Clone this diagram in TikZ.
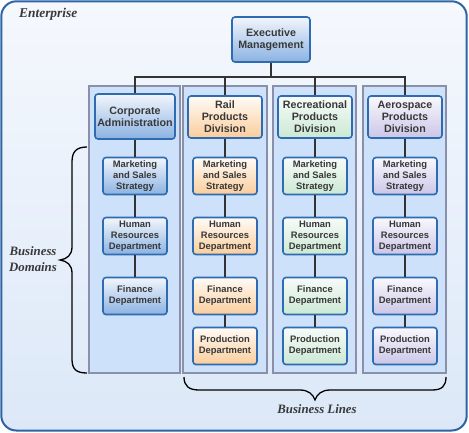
\documentclass[tikz,border=0pt]{standalone}
\usepackage{fontspec}
\newfontfamily\boxfont{Liberation Sans}
\newfontfamily\labfont{Liberation Serif}
\definecolor{outerline}{HTML}{2E64A3}
\definecolor{outertop}{HTML}{F5F8FD}
\definecolor{outerbot}{HTML}{DCE8F8}
\definecolor{colfill}{HTML}{CDE1FA}
\definecolor{colline}{HTML}{8A90A9}
\definecolor{boxline}{HTML}{2E6BB0}
\definecolor{txt}{HTML}{383838}
\definecolor{bluetop}{HTML}{F2F6FC}
\definecolor{bluebot}{HTML}{8BB2E2}
\definecolor{orgtop}{HTML}{FFFBF6}
\definecolor{orgbot}{HTML}{FACD9C}
\definecolor{grntop}{HTML}{F7FBF8}
\definecolor{grnbot}{HTML}{CBE8D4}
\definecolor{victop}{HTML}{F9F8FD}
\definecolor{vicbot}{HTML}{CAC6E7}
\definecolor{connc}{HTML}{333333}
\tikzset{
  outerbox/.style={draw=outerline, line width=2pt, rounded corners=15pt, top color=outertop, bottom color=outerbot},
  column/.style={draw=colline, fill=colfill, line width=1.2pt, rectangle, inner sep=0pt, minimum height=287pt},
  basebox/.style={draw=boxline, line width=1.6pt, rounded corners=3pt, rectangle, inner sep=0pt, align=center, text=txt},
  divbox/.style={basebox, minimum width=74pt, minimum height=42pt, font=\boxfont\bfseries\fontsize{10.7}{12}\selectfont},
  subbox/.style={basebox, minimum width=64pt, minimum height=37pt, font=\boxfont\bfseries\fontsize{9.4}{11}\selectfont},
  blue/.style={top color=bluetop, bottom color=bluebot},
  orange/.style={top color=orgtop, bottom color=orgbot},
  green/.style={top color=grntop, bottom color=grnbot},
  violet/.style={top color=victop, bottom color=vicbot},
  conn/.style={draw=connc, line width=2.6pt},
  bracepath/.style={draw=black, line width=1.3pt},
  lab/.style={font=\labfont\bfseries\itshape\fontsize{12.8}{16}\selectfont, text=txt, align=center, inner sep=0pt},
}
\begin{document}
\begin{tikzpicture}[x=1pt, y=-1pt]
\useasboundingbox (0,0) rectangle (469,432);
\path[outerbox] (1.3,1.3) rectangle (466.7,430.5);
\node[lab, anchor=west, font=\labfont\bfseries\itshape\fontsize{13.4}{16}\selectfont] (ent) at (19,14) {Enterprise};

% columns
\node[column, minimum width=91pt] (c1) at (134.5,229.5) {};
\node[column, minimum width=84pt] (c2) at (225,229.5) {};
\node[column, minimum width=83pt] (c3) at (314.5,229.5) {};
\node[column, minimum width=83pt] (c4) at (404.5,229.5) {};

% top
\node[divbox, blue, minimum width=78pt, minimum height=45pt] (exec) at (271,39.5) {Executive\\Management};
\node[divbox, blue, minimum width=80pt, minimum height=45pt] (corp) at (135,116.5) {Corporate\\Administration};
\node[divbox, orange] (rail) at (225,117) {Rail\\Products\\Division};
\node[divbox, green] (rec) at (315,117) {Recreational\\Products\\Division};
\node[divbox, violet] (aero) at (405,117) {Aerospace\\Products\\Division};

% column 1
\node[subbox, blue] (m1) at (135,176) {Marketing\\and Sales\\Strategy};
\node[subbox, blue] (h1) at (135,236) {Human\\Resources\\Department};
\node[subbox, blue] (f1) at (135,296) {Finance\\Department};
% column 2
\node[subbox, orange] (m2) at (225,176) {Marketing\\and Sales\\Strategy};
\node[subbox, orange] (h2) at (225,236) {Human\\Resources\\Department};
\node[subbox, orange] (f2) at (225,296) {Finance\\Department};
\node[subbox, orange] (p2) at (225,346) {Production\\Department};
% column 3
\node[subbox, green] (m3) at (315,176) {Marketing\\and Sales\\Strategy};
\node[subbox, green] (h3) at (315,236) {Human\\Resources\\Department};
\node[subbox, green] (f3) at (315,296) {Finance\\Department};
\node[subbox, green] (p3) at (315,346) {Production\\Department};
% column 4
\node[subbox, violet] (m4) at (405,176) {Marketing\\and Sales\\Strategy};
\node[subbox, violet] (h4) at (405,236) {Human\\Resources\\Department};
\node[subbox, violet] (f4) at (405,296) {Finance\\Department};
\node[subbox, violet] (p4) at (405,346) {Production\\Department};

% connectors
\coordinate (bar) at (271,77);
\draw[conn] (exec.south) -- (bar);
\draw[conn] (corp.north) |- (bar) -| (aero.north);
\draw[conn] (rail.north) -- (rail.north |- bar);
\draw[conn] (rec.north) -- (rec.north |- bar);
\draw[conn] (corp.south) -- (m1.north);
\draw[conn] (m1.south) -- (h1.north);
\draw[conn] (h1.south) -- (f1.north);
\draw[conn] (rail.south) -- (m2.north);
\draw[conn] (m2.south) -- (h2.north);
\draw[conn] (h2.south) -- (f2.north);
\draw[conn] (f2.south) -- (p2.north);
\draw[conn] (rec.south) -- (m3.north);
\draw[conn] (m3.south) -- (h3.north);
\draw[conn] (h3.south) -- (f3.north);
\draw[conn] (f3.south) -- (p3.north);
\draw[conn] (aero.south) -- (m4.north);
\draw[conn] (m4.south) -- (h4.north);
\draw[conn] (h4.south) -- (f4.north);
\draw[conn] (f4.south) -- (p4.north);

% braces
\draw[bracepath] (87,147) .. controls (76,147) and (72,152) .. (72,162) -- (72,247)
  .. controls (72,255) and (67,259) .. (60,260)
  .. controls (67,261) and (72,265) .. (72,273) -- (72,359)
  .. controls (72,369) and (76,373) .. (87,373);
\draw[bracepath] (184,377) .. controls (184,386) and (189,390) .. (199,390) -- (300,390)
  .. controls (308,390) and (313,394) .. (315,400)
  .. controls (317,394) and (322,390) .. (330,390) -- (432,390)
  .. controls (442,390) and (446,386) .. (446,377);
\node[lab] (dom) at (33,259) {Business\\Domains};
\node[lab] (lines) at (317,409) {Business Lines};
\end{tikzpicture}
\end{document}
